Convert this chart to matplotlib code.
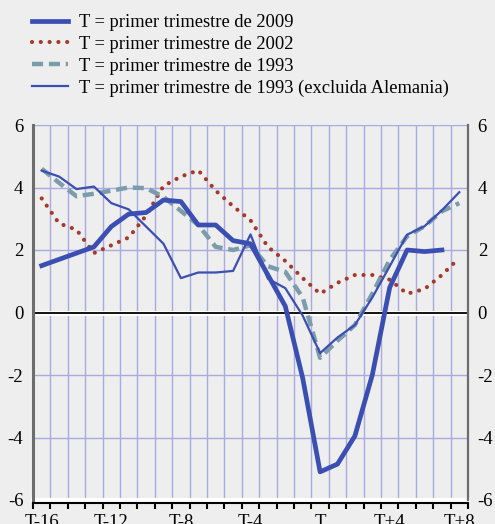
import numpy as np
import matplotlib
matplotlib.use("Agg")
import matplotlib.pyplot as plt
from matplotlib.lines import Line2D

plt.rcParams['font.family'] = ['Liberation Serif', 'DejaVu Serif']

# quarters T-16 ... T+8
quarters = ['T-16', 'T-15', 'T-14', 'T-13', 'T-12', 'T-11', 'T-10', 'T-9', 'T-8',
            'T-7', 'T-6', 'T-5', 'T-4', 'T-3', 'T-2', 'T-1', 'T',
            'T+1', 'T+2', 'T+3', 'T+4', 'T+5', 'T+6', 'T+7', 'T+8']

s2009 = [1.5, 1.7, 1.9, 2.1, 2.75, 3.15, 3.2, 3.6, 3.55, 2.8, 2.8, 2.3, 2.2,
         1.2, 0.2, -2.1, -5.1, -4.85, -3.95, -2.0, 0.8, 2.0, 1.95, 2.0]
s2002 = [3.65, 2.85, 2.65, 1.9, 2.15, 2.4, 3.1, 4.05, 4.35, 4.55, 3.9, 3.4, 2.95,
         2.1, 1.65, 1.1, 0.6, 0.95, 1.2, 1.2, 1.05, 0.6, 0.75, 1.2, 1.75]
s1993 = [4.6, 4.15, 3.72, 3.8, 3.9, 4.0, 3.98, 3.7, 3.25, 2.8, 2.1, 2.0, 2.15,
         1.48, 1.3, 0.48, -1.45, -0.9, -0.4, 0.6, 1.68, 2.44, 2.76, 3.24, 3.5]
s1993_ex = [4.54, 4.35, 3.95, 4.03, 3.5, 3.3, 2.75, 2.2, 1.1, 1.28, 1.28, 1.33, 2.5,
            1.08, 0.78, -0.1, -1.3, -0.8, -0.4, 0.48, 1.48, 2.49, 2.76, 3.27, 3.85]

labels = ['T = primer trimestre de 2009', 'T = primer trimestre de 2002',
          'T = primer trimestre de 1993', 'T = primer trimestre de 1993 (excluida Alemania)']

blue = '#3b4fb2'
red = '#a33a2c'
teal = '#7b9cab'
grid = '#a9aae0'
bg = '#eeeeee'

fig = plt.figure(figsize=(4.95, 5.24), dpi=100, facecolor=bg)
ax = fig.add_axes([33/495, 1-500/524, (468-33)/495, 375/524], facecolor=bg)

n = len(quarters)
ax.set_xlim(0, n)
ax.set_ylim(-6, 6)

for v in range(1, n):
    ax.axvline(v, color=grid, lw=1, zorder=1)
for v in [-4, -2, 2, 4, 6]:
    ax.axhline(v, color=grid, lw=1, zorder=1)
ax.axhline(0, color='white', lw=3.5, zorder=1.5)
ax.axhline(0, color='black', lw=1.3, zorder=1.6)
ax.axhline(-6, color='white', lw=3, zorder=1.5, clip_on=False)

x = np.arange(n) + 0.5
ax.plot(x[:len(s2002)], s2002, color=red, lw=3, linestyle=(0, (0.01, 2.1)),
        dash_capstyle='round', zorder=3)
ax.plot(x[:len(s1993)], s1993, color=teal, lw=3.2, linestyle=(0, (2.5, 1.3)), zorder=3)
ax.plot(x[:len(s1993_ex)], s1993_ex, color=blue, lw=1.6, zorder=4)
ax.plot(x[:len(s2009)], s2009, color=blue, lw=3.4, zorder=5)

ax.set_yticks([-6, -4, -2, 0, 2, 4, 6])
ax.set_yticklabels(['-6', '-4', '-2', '0', '2', '4', '6'])
ax.tick_params(axis='y', length=0, labelsize=13.5, pad=7, labelleft=True, labelright=True)

ax.set_xticks(x[::4])
ax.set_xticklabels(quarters[::4])
ax.set_xticks(np.arange(0, n + 1), minor=True)
ax.tick_params(axis='x', which='major', length=0, labelsize=13.5, pad=8)
ax.tick_params(axis='x', which='minor', length=4, width=1.5, color='black', direction='out')

ax.spines['top'].set_visible(False)
ax.spines['left'].set_color('#6d6d6d')
ax.spines['left'].set_linewidth(2.2)
ax.spines['right'].set_color('#6d6d6d')
ax.spines['right'].set_linewidth(1.6)
ax.spines['bottom'].set_color('black')
ax.spines['bottom'].set_linewidth(1.5)
ax.spines['bottom'].set_position(('outward', 2))

handles = [
    Line2D([], [], color=blue, lw=3.4),
    Line2D([], [], color=red, lw=3, linestyle=(0, (0.01, 2.1)), dash_capstyle='round'),
    Line2D([], [], color=teal, lw=3.2, linestyle=(0, (2.5, 1.3))),
    Line2D([], [], color=blue, lw=1.6),
]
fig.legend(handles, labels, loc='upper left', bbox_to_anchor=(32/495, 1 - 14/524),
           frameon=False, fontsize=13.3, handlelength=1.95, handletextpad=0.6,
           labelspacing=0.26, borderaxespad=0, borderpad=0)

fig.savefig('out.png', dpi=100, facecolor=bg)
